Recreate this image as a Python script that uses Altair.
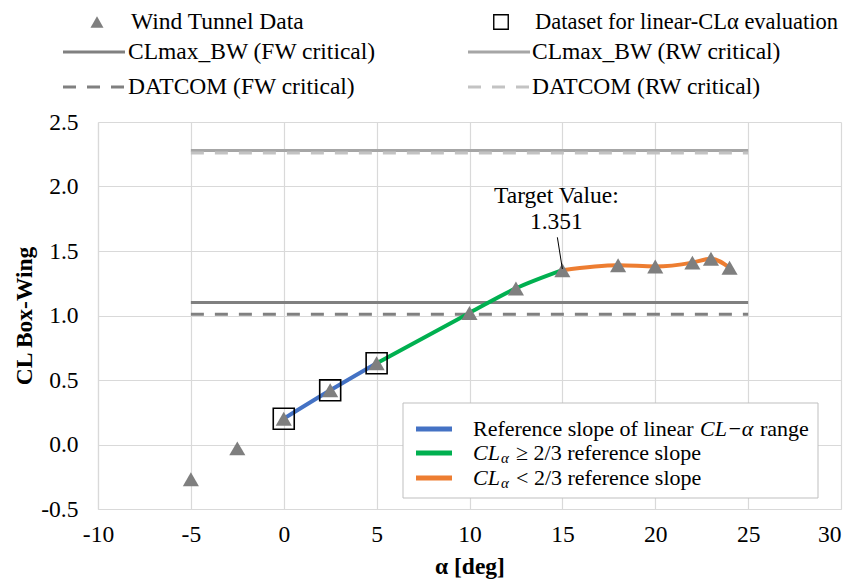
import altair as alt
import pandas as pd

# ---------------- data ----------------
alpha_deg = [-5, -2.5, 0, 2.5, 5, 10, 12.5, 15, 18, 20, 22, 23, 24]
cl_box_wing = [-0.27, -0.03, 0.20, 0.42, 0.63, 1.02, 1.21, 1.351, 1.39, 1.38, 1.41, 1.44, 1.37]
linear_eval_alpha = [0, 2.5, 5]

segment_names = ["Reference slope of linear CL-α range", "CLα ≥ 2/3 reference slope", "CLα < 2/3 reference slope"]
segment_start = [0, 5, 15]
segment_end = [5, 15, 24]
segment_colors = ["#4472C4", "#00B050", "#ED7D31"]

ref_names = ["CLmax_BW (FW critical)", "CLmax_BW (RW critical)", "DATCOM (FW critical)", "DATCOM (RW critical)"]
ref_values = [1.10, 2.28, 1.01, 2.26]
ref_colors = ["#808080", "#a6a6a6", "#808080", "#c3c3c3"]
ref_dashed = [False, False, True, True]
ref_alpha_from = -5
ref_alpha_to = 25

target_alpha = 15
target_value = 1.351

x_ticks = [-10, -5, 0, 5, 10, 15, 20, 25, 30]
y_ticks = [-0.5, 0.0, 0.5, 1.0, 1.5, 2.0, 2.5]

# ---------------- styling ----------------
SERIF = "Liberation Serif"
FS = 23.5
W, H = 743, 387
DASH = [13, 11]

points_df = pd.DataFrame({"alpha": alpha_deg, "cl": cl_box_wing})
lin_df = points_df[points_df["alpha"].isin(linear_eval_alpha)]

xlab = "datum.value < 0 ? '-' + format(-datum.value, 'd') : format(datum.value, 'd')"
ylab = "datum.value < 0 ? '-' + format(-datum.value, '.1f') : format(datum.value, '.1f')"

x_scale = alt.Scale(domain=[-10, 30], nice=False, zero=False)
y_scale = alt.Scale(domain=[-0.5, 2.5], nice=False, zero=False)
x_axis = alt.Axis(values=x_ticks, labelExpr=xlab, title="α [deg]", labelPadding=13,
                  titlePadding=9, labelFlush=False, labelOverlap=False, grid=True,
                  labelAlign={"expr": "datum.value >= 30 ? 'right' : 'center'"})
y_axis = alt.Axis(values=y_ticks, labelExpr=ylab, title="CL Box-Wing", labelPadding=20,
                  titlePadding=4, labelOverlap=False, grid=True)


def X(field):
    return alt.X(field, type="quantitative", scale=x_scale, axis=x_axis)


def Y(field):
    return alt.Y(field, type="quantitative", scale=y_scale, axis=y_axis)


layers = []

# reference horizontal lines
for name, val, col, dashed in zip(ref_names, ref_values, ref_colors, ref_dashed):
    df = pd.DataFrame({"a0": [ref_alpha_from], "a1": [ref_alpha_to], "v": [val], "name": [name]})
    kw = dict(color=col, strokeWidth=3)
    if dashed:
        kw["strokeDash"] = DASH
    layers.append(alt.Chart(df).mark_rule(**kw).encode(x=X("a0"), x2="a1", y=Y("v")))

# coloured slope segments
for name, lo, hi, col in zip(segment_names, segment_start, segment_end, segment_colors):
    df = points_df[(points_df["alpha"] >= lo) & (points_df["alpha"] <= hi)].copy()
    df["seg"] = name
    layers.append(
        alt.Chart(df).mark_line(color=col, strokeWidth=4, interpolate="monotone")
        .encode(x=X("alpha"), y=Y("cl"), order="alpha:Q")
    )

# wind tunnel data
layers.append(
    alt.Chart(points_df).mark_point(shape="triangle-up", filled=True, color="#7f7f7f",
                                    size=260, opacity=1)
    .encode(x=X("alpha"), y=Y("cl"))
)
# dataset for linear evaluation
layers.append(
    alt.Chart(lin_df).mark_point(shape="square", filled=False, color="black",
                                 strokeWidth=1.6, size=440, opacity=1)
    .encode(x=X("alpha"), y=Y("cl"))
)

# annotation
ann_df = pd.DataFrame({"alpha": [target_alpha], "cl": [target_value],
                       "a_top": [target_alpha - 0.27], "cl_top": [target_value + 0.255],
                       "cl_end": [target_value + 0.01],
                       "l1": ["Target Value:"], "l2": [f"{target_value:.3f}"]})
layers.append(alt.Chart(ann_df).mark_rule(color="black", strokeWidth=1)
              .encode(x=X("a_top"), y=Y("cl_top"), x2="alpha", y2="cl_end"))
layers.append(alt.Chart(ann_df).mark_text(font=SERIF, fontSize=FS, color="black", dx=-6, dy=-74)
              .encode(x=X("alpha"), y=Y("cl"), text="l1:N"))
layers.append(alt.Chart(ann_df).mark_text(font=SERIF, fontSize=FS, color="black", dx=-6, dy=-48)
              .encode(x=X("alpha"), y=Y("cl"), text="l2:N"))


# ---------------- manual legends ----------------
def txt(label, x, y, size=FS, style="normal", align="left"):
    return (alt.Chart(pd.DataFrame({"t": [label]}))
            .mark_text(font=SERIF, fontSize=size, fontStyle=style, align=align,
                       baseline="middle", color="black")
            .encode(x=alt.value(x), y=alt.value(y), text="t:N"))


def hline(x1, x2, y, color, width, dashed=False):
    kw = dict(color=color, strokeWidth=width)
    if dashed:
        kw["strokeDash"] = DASH
    return (alt.Chart(pd.DataFrame({"t": [0]})).mark_rule(**kw)
            .encode(x=alt.value(x1), x2=alt.value(x2), y=alt.value(y)))


def sym(shape, x, y, size, filled, color, sw=1):
    return (alt.Chart(pd.DataFrame({"t": [0]}))
            .mark_point(shape=shape, filled=filled, color=color, size=size, opacity=1, strokeWidth=sw)
            .encode(x=alt.value(x), y=alt.value(y)))


# top legend (coordinates relative to plot origin)
rows = [-100, -70, -35]
c1_sym, c1_txt = -35, 33
c2_sym, c2_txt = 370, 437
layers.append(sym("triangle-up", -1, rows[0], 170, True, "#7f7f7f"))
layers.append(txt("Wind Tunnel Data", c1_txt, rows[0]))
layers.append(sym("square", 403, rows[0], 210, False, "black", 1.4))
layers.append(txt("Dataset for linear-CLα evaluation", c2_txt, rows[0], 22.5))
legend_slots = [(c1_sym, c1_txt, rows[1]), (c2_sym, c2_txt, rows[1]),
                (c1_sym, c1_txt, rows[2]), (c2_sym, c2_txt, rows[2])]
for (sx, tx, ry), name, col, dashed in zip(legend_slots, ref_names, ref_colors, ref_dashed):
    layers.append(hline(sx, sx + 62, ry, col, 3, dashed))
    layers.append(txt(name, tx - 3, ry))

# bottom legend box
layers.append(alt.Chart(pd.DataFrame({"t": [0]}))
              .mark_rect(fill="white", stroke="#bfbfbf", strokeWidth=1)
              .encode(x=alt.value(305), x2=alt.value(720), y=alt.value(281), y2=alt.value(376)))
brow = [307, 331, 356]
LFS = 22
for ry, col in zip(brow, segment_colors):
    layers.append(hline(318, 354, ry, col, 5))
layers.append(txt("Reference slope of linear", 375, brow[0], LFS))
layers.append(txt("CL−α", 602, brow[0], LFS, "italic"))
layers.append(txt("range", 662, brow[0], LFS))
for ry, rest in zip(brow[1:], ["≥ 2/3 reference slope", "< 2/3 reference slope"]):
    layers.append(txt("CL", 375, ry, LFS, "italic"))
    layers.append(txt("α", 403, ry + 5, 15, "italic"))
    layers.append(txt(rest, 418, ry, LFS))

chart = (
    alt.layer(*layers)
    .properties(width=W, height=H,
                autosize=alt.AutoSizeParams(type="none"),
                padding={"left": 90, "top": 114, "right": 5, "bottom": 71})
    .configure_view(stroke="transparent")
    .configure_axis(gridColor="#d9d9d9", domainColor="#d9d9d9", gridWidth=1.2, domainWidth=1.2,
                    ticks=False, tickSize=0,
                    labelFont=SERIF, labelFontSize=FS, labelColor="black",
                    titleFont=SERIF, titleFontSize=FS, titleFontWeight="bold", titleColor="black")
)

chart.save("out.html", embed_options={"renderer": "svg", "actions": False})
